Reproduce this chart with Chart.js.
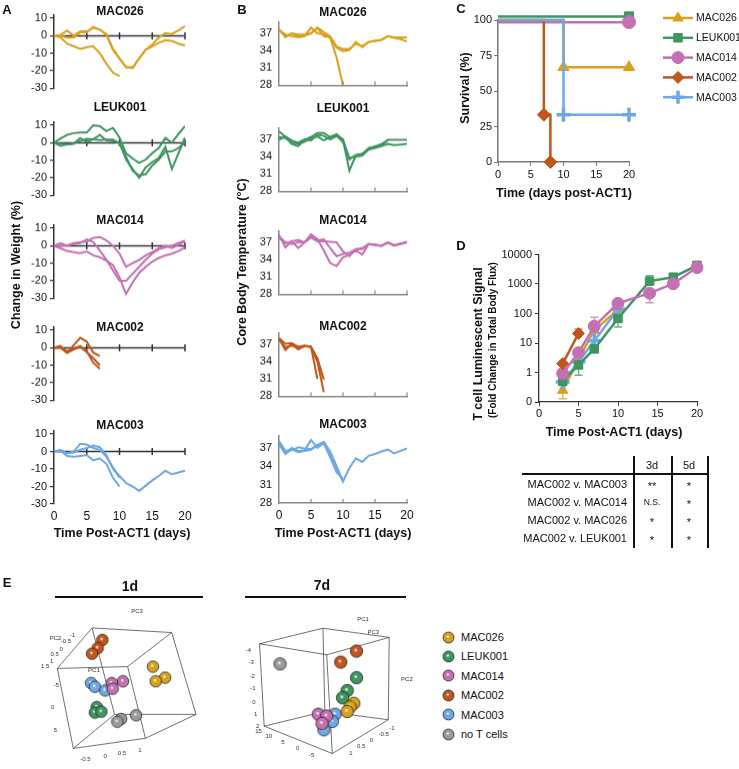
<!DOCTYPE html>
<html>
<head>
<meta charset="utf-8">
<script src="https://cdn.jsdelivr.net/npm/chart.js@4.4.1/dist/chart.umd.min.js"></script>
<style>
  body { margin: 0; background: #fff; }
  #fig { position: relative; width: 739px; height: 769px; overflow: hidden;
         font-family: 'Liberation Sans', Arial, sans-serif; color: #111; }
  #fig canvas { position: absolute; }
  .t { position: absolute; white-space: nowrap; line-height: 1; }
  .b { font-weight: bold; }
  .ctr { transform: translate(-50%, -50%); }
  .rgt { transform: translate(-100%, -50%); }
  .lft { transform: translate(0, -50%); }
  .rot { transform: translate(-50%, -50%) rotate(-90deg); }
  .ln { position: absolute; background: #111; }
</style>
</head>
<body>
<div id="fig"></div>
<script>
// ---- data ----
const dayAxis = [0,1,2,3,4,5,6,7,8,9,10,11,12,13,14,15,16,17,18,19,20];

// Panel A: change in weight (%), one array per mouse
const wtMAC026 = [
  [0, -1, -4.5, -6, -7.5, -6.5, -6, -10, -16, -21, -23],
  [0, 0.5, 3, 0, 2.5, 2.5, 4.5, 3.5, 0.5, -8, -13, -18, -18.5, -13, -8, -6, -4, -2.5, -3, -4.5, -5.5],
  [0, 0, -1, -1, 2, 2, 5, 3.5, 1, -7.5, -13, -18, -18, -13, -8, -5, -1, 1.5, 1, 3, 5.5]
];
const wtLEUK001 = [
  [0, 2.5, 4.5, 5.5, 5.8, 5.8, 10, 9.5, 6.7, 8.5, 3, -6, -9, -11.5, -9.6, -6, -3, 2.7, 0, 5, 9.5],
  [0, -1.8, -1, -0.5, 2.7, 0.4, 2, 4.4, 1.3, 1, 0, -9.6, -15, -20, -14, -11, -8.7, -2.4, -15, -6, 3],
  [0, -0.5, -0.9, -0.5, 1, 2.2, 2, 1.5, 1.8, 1.8, -0.5, -8, -16, -18.7, -18, -13, -9.6, -5, -5, -3, 0]
];
const wtMAC014 = [
  [0, -1.5, -3, -3.6, -4.2, -3.3, -5.5, -6.5, -8.5, -11, -18, -27.5, -21, -15.5, -12, -9, -7, -5.5, -4.5, -3, -1],
  [0, 1.5, 0, 1.5, 2, 2.4, 4.5, 5, 3, 0, -4.5, -12, -10, -8, -5.5, -3.6, -1.5, 0, -1.3, 0.5, 2.7],
  [0, 0, 0.3, 1, 1.5, 3.6, 2, -2.7, -8, -14, -20, -20, -16, -12, -8, -4.5, -2, -1, 0, 1.5, 3]
];
const wtMAC002 = [
  [0, 1, -2.8, 1.5, 5.7, 3.5, -2.8, -4.7],
  [0, 0.5, -2, -0.5, 1, -2, -8.5, -12],
  [0, 0, -3, -1, 0.5, -2.5, -6, -10]
];
const wtMAC003 = [
  [0, 0.5, -2.5, -3, -2.5, -2, -5, -4, -7, -15, -20],
  [0, 1, -1, 0, 4.5, 4, 2, 1, -3, -9, -15],
  [0, 0, -1, -0.5, 1, 2, 3.5, 2.5, -2, -10, -14, -18, -20, -22.5, -19.5, -16.5, -14, -11, -13, -12, -11]
];

// Panel B: core body temperature (°C)
const tpMAC026 = [
  [37.7, 36.3, 37, 36.8, 36.8, 37, 37.9, 36.5, 36.3, 32.8, 28],
  [37.5, 36.8, 36.5, 36.3, 36.5, 38, 37, 36.8, 36.2, 34.5, 33.9, 34.1, 35.5, 34.6, 35.5, 35.7, 35.8, 36.5, 36.2, 36, 35.6],
  [37.7, 36.5, 37, 36.5, 36.6, 37, 38, 37.2, 36.5, 34.7, 34.3, 34.3, 35.2, 34.8, 35.5, 35.7, 35.9, 36.5, 36.3, 36.3, 36.3]
];
const tpLEUK001 = [
  [38.4, 37.4, 36.2, 35.8, 36.9, 37.4, 38.1, 38.1, 37.4, 37.9, 36.9, 31.6, 34.2, 34.2, 35.5, 35.7, 35.9, 36.9, 36.9, 36.9, 36.9],
  [37.4, 37.2, 36.5, 36.2, 36.6, 37.2, 37.5, 36.8, 37.4, 37.6, 36.5, 33.8, 34, 34.2, 35.2, 35.5, 35.8, 36.2, 36, 36.1, 36.2],
  [36.9, 37.5, 36.8, 36.4, 37, 36.8, 37.8, 37.6, 37, 37.6, 37, 33.5, 34.3, 34.5, 35.4, 35.8, 36.2, 36.8]
];
const tpMAC014 = [
  [38.3, 36.1, 37.2, 36, 37, 38.4, 37.6, 35.6, 33.4, 32.9, 34.4, 34.8, 35.6, 34.9, 36.7, 36.6, 36.4, 37, 36.4, 36.8, 37.1],
  [38, 37, 36.7, 37, 37, 38, 37.3, 37.5, 36, 34.6, 35, 35.2, 35.8, 36, 36.7, 36.6, 36.4, 36.9, 36.5, 36.7, 37],
  [37.8, 36.8, 37.2, 37.4, 37, 37.8, 37.2, 37.2, 37.1, 37, 35.4, 34.6, 35.8, 35.8, 36.7, 36.5, 36.4, 37, 36.5, 36.8, 37]
];
const tpMAC002 = [
  [38.1, 37.1, 37.2, 36.6, 36.8, 36.6, 34.6, 30.9],
  [38, 36, 37.1, 36.1, 36.7, 36.6, 31],
  [37.8, 36.5, 36.8, 36.3, 36.7, 36.5, 34, 28.7]
];
const tpMAC003 = [
  [38.1, 36.5, 36.6, 37.1, 36.9, 36.8, 37.5, 38, 36.4, 34, 31.5, 33.7, 35.3, 34.7, 35.7, 36, 36.4, 36.7, 36.1, 36.5, 36.9],
  [37.5, 36.2, 37, 36.5, 36.6, 38.3, 37, 37.8, 35.8, 33.5, 31.5],
  [37.8, 36, 36.8, 36.3, 36.5, 36.7, 37.4, 37.7, 35.5, 33, 32]
];

// Panel C: survival (%)
const survNames = ['MAC026', 'LEUK001', 'MAC014', 'MAC002', 'MAC003'];
const survDays = {
  MAC026: [0, 10, 20], LEUK001: [0, 20], MAC014: [0, 20], MAC002: [0, 7, 8], MAC003: [0, 10, 20]
};
const survPct = {
  MAC026: [100, 66.7, 66.7], LEUK001: [102.5, 102.5], MAC014: [98.5, 98.5], MAC002: [100, 33.3, 0], MAC003: [100, 33.3, 33.3]
};

// Panel D: T cell luminescent signal (fold change)
const lumDays = [3, 5, 7, 10, 14, 17, 20];
const lumMAC002 = [2, 21];
const lumMAC014 = [0.93, 4.7, 37, 220, 490, 1020, 3600];
const lumMAC026 = [0.25, 2.8, 27, 135];
const lumMAC003 = [0.48, 2.3, 12, 140];
const lumLEUK001 = [0.5, 1.8, 6.3, 68, 1250, 1700, 4300];
const lumErrHi = { MAC002: [null, 30], MAC014: [null, null, 75], LEUK001: [null, null, null, null, 1900] };
const lumErrLo = { MAC026: [0.13], MAC014: [null, null, null, null, 230], LEUK001: [null, 0.8, null, 35] };
const lumTicks = [0.1, 1, 10, 100, 1000, 10000];

// Significance table
const cmpRows = ['MAC002 v. MAC003', 'MAC002 v. MAC014', 'MAC002 v. MAC026', 'MAC002 v. LEUK001'];
const sig3d = ['**', 'N.S.', '*', '*'];
const sig5d = ['*', '*', '*', '*'];

// Panel E: projected PCA positions of the spheres (screen units of each 3D view)
const pca1d = {
  MAC026: [[156, 65], [169, 77], [159, 81]],
  LEUK001: [[96, 109], [94, 115], [101, 114]],
  MAC014: [[124, 81], [112, 83], [113, 89]],
  MAC002: [[102, 36], [97, 45], [91, 51]],
  MAC003: [[90, 83], [94, 87], [105, 91]],
  none: [[122, 122], [118, 125], [138, 118]]
};
const pca7d = {
  MAC026: [[141, 105], [137, 109], [134, 114]],
  LEUK001: [[144, 77], [134, 91], [129, 99]],
  MAC014: [[103, 117], [112, 119], [107, 127]],
  MAC002: [[144, 48], [127, 60]],
  MAC003: [[121, 117], [118, 125], [109, 134]],
  none: [[62, 62]]
};
const box1d = [[91, 23], [176, 28], [129, 65], [54, 67], [115, 117], [202, 117], [148, 143], [71, 154]];
const box7d = [[40, 40], [108, 23], [179, 33], [112, 52], [45, 130], [110, 114], [178, 123], [118, 160]];
const boxEdges = [[0,1],[1,2],[2,3],[3,0],[4,5],[5,6],[6,7],[7,4],[0,4],[1,5],[2,6],[3,7]];
const box1dEdges = [[0,1],[1,2],[2,3],[3,0],[7,6],[6,5],[5,4],[4,7],[0,4],[1,5],[2,6],[3,7]];
const ticks1d = [['PC3',139,5],['PC2',52,34],['-1',70,31],['-0.5',63,38],['0',58,46],['0.5',51,52],['1',48,59],['1.5',41,65],
  ['PC1',93,69],['-5',53,85],['0',49,109],['5',52,134],['-0.5',84,166],['0',105,163],['0.5',123,159],['1',142,156]];
const ticks7d = [['PC1',151,13],['PC3',162,28],['PC2',198,79],['-4',28,47],['-3',31,60],['-2',32,76],['-1',33,89],['0',34,104],
  ['1',36,117],['2',38,130],['15',39,136],['10',50,141],['5',65,148],['0',81,154],['-5',96,162],
  ['-1',182,132],['-0.5',173,139],['0',160,145],['0.5',149,152],['1',138,160]];
const groupNames = ['MAC026', 'LEUK001', 'MAC014', 'MAC002', 'MAC003', 'no T cells'];

// ---- colours ----
const col = {
  MAC026: '#D9A11E', LEUK001: '#3E9660', MAC014: '#C470B3',
  MAC002: '#C2561B', MAC003: '#6EA8E6', none: '#9A9A9A'
};
const markers = { MAC026: 'triangle', LEUK001: 'rect', MAC014: 'circle', MAC002: 'rectRot', MAC003: 'cross' };

Chart.defaults.font.family = "'Liberation Sans', Arial, sans-serif";
Chart.defaults.font.size = 11;
Chart.defaults.color = '#111';
Chart.defaults.animation = false;
Chart.defaults.plugins.legend.display = false;
Chart.defaults.plugins.tooltip.enabled = false;

const fig = document.getElementById('fig');

function addCanvas(left, top, w, h) {
  const c = document.createElement('canvas');
  c.width = w; c.height = h;
  c.style.left = left + 'px'; c.style.top = top + 'px';
  c.style.width = w + 'px'; c.style.height = h + 'px';
  fig.appendChild(c);
  return c;
}

function addText(txt, x, y, cls, size) {
  const d = document.createElement('div');
  d.className = 't ' + (cls || '');
  d.textContent = txt;
  d.style.left = x + 'px'; d.style.top = y + 'px';
  if (size) d.style.fontSize = size + 'px';
  fig.appendChild(d);
  return d;
}

function addLine(x, y, w, h) {
  const d = document.createElement('div');
  d.className = 'ln';
  d.style.left = x + 'px'; d.style.top = y + 'px';
  d.style.width = w + 'px'; d.style.height = h + 'px';
  fig.appendChild(d);
}

function toPoints(vals, xs) {
  const out = [];
  vals.forEach((v, i) => { if (v !== null) out.push({ x: (xs || dayAxis)[i], y: v }); });
  return out;
}

// zero line with crossing ticks (panel A)
const zeroLine = {
  id: 'zeroLine',
  beforeDatasetsDraw(chart, args, opts) {
    if (!opts.on) return;
    const { ctx, chartArea, scales: { x, y } } = chart;
    const y0 = y.getPixelForValue(0);
    ctx.save();
    ctx.strokeStyle = '#333';
    ctx.lineWidth = 1.5;
    ctx.beginPath();
    ctx.moveTo(chartArea.left, y0);
    ctx.lineTo(chartArea.right, y0);
    [5, 10, 15, 20].forEach(v => {
      const px = x.getPixelForValue(v);
      ctx.moveTo(px, y0 - 3.5);
      ctx.lineTo(px, y0 + 3.5);
    });
    ctx.stroke();
    ctx.restore();
  }
};

// short inward ticks on the bottom axis (panel B)
const innerTicks = {
  id: 'innerTicks',
  afterDraw(chart, args, opts) {
    if (!opts.on) return;
    const { ctx, chartArea, scales: { x } } = chart;
    ctx.save();
    ctx.strokeStyle = '#888';
    ctx.lineWidth = 1.2;
    ctx.beginPath();
    [5, 10, 15, 20].forEach(v => {
      const px = x.getPixelForValue(v);
      ctx.moveTo(px, chartArea.bottom);
      ctx.lineTo(px, chartArea.bottom - 4);
    });
    ctx.stroke();
    ctx.restore();
  }
};

function smallChart(o) {
  const yw = 40, pr = 12, pt = 8;
  const pb = o.showX ? 2 : 8, xh = o.showX ? 20 : 0;
  const cv = addCanvas(o.L - yw, o.T - pt, yw + (o.R - o.L) + pr, pt + (o.B - o.T) + xh + pb);
  const isA = o.kind === 'A';
  const axisCol = isA ? '#333' : '#888';
  new Chart(cv, {
    type: 'line',
    data: {
      datasets: o.lines.map(v => ({
        data: toPoints(v), borderColor: o.color, borderWidth: 2,
        pointRadius: 0, tension: 0
      }))
    },
    options: {
      responsive: false, devicePixelRatio: 1,
      layout: { padding: { left: 0, right: pr, top: pt, bottom: pb } },
      plugins: { zeroLine: { on: isA }, innerTicks: { on: !isA } },
      scales: {
        x: {
          type: 'linear', min: 0, max: 20,
          display: isA ? o.showX : true,
          ticks: { stepSize: 5, display: o.showX, padding: 5, font: { size: 12 } },
          grid: { display: false, drawTicks: false },
          border: { display: !isA, color: axisCol, width: 1.5 },
          afterFit: s => { s.height = xh; }
        },
        y: {
          min: o.yMin, max: o.yMax,
          ticks: { padding: isA ? 3 : 7 },
          afterBuildTicks: s => {
            const t = [];
            for (let v = o.yMin; v <= o.yMax; v += o.yStep) t.push({ value: v });
            s.ticks = t;
          },
          grid: isA ? { display: true, drawOnChartArea: false, tickLength: 4, color: axisCol, lineWidth: 1.2 }
                    : { display: false, drawTicks: false },
          border: { color: axisCol, width: 1.5 },
          afterFit: s => { s.width = yw; }
        }
      }
    },
    plugins: [zeroLine, innerTicks]
  });
}

// ---- panel A ----
const aRows = [
  ['MAC026', wtMAC026, 13.4, 90, 11],
  ['LEUK001', wtLEUK001, 120.4, 197, 107],
  ['MAC014', wtMAC014, 223.4, 300, 220],
  ['MAC002', wtMAC002, 325.4, 402, 327],
  ['MAC003', wtMAC003, 428.6, 504, 425]
];
aRows.forEach((r, i) => {
  smallChart({ kind: 'A', lines: r[1], color: col[r[0]], L: 54, R: 185, T: r[2], B: r[3],
               yMin: -30, yMax: 12, yStep: 10, showX: i === 4 });
  addText(r[0], 120, r[4], 'b ctr', 12);
});

// ---- panel B ----
const bRows = [
  ['MAC026', tpMAC026, 16.4, 91, 12],
  ['LEUK001', tpLEUK001, 122.4, 197, 108],
  ['MAC014', tpMAC014, 225.4, 300, 220],
  ['MAC002', tpMAC002, 327.4, 402, 326],
  ['MAC003', tpMAC003, 429.7, 503, 424]
];
bRows.forEach((r, i) => {
  smallChart({ kind: 'B', lines: r[1], color: col[r[0]], L: 279, R: 407, T: r[2], B: r[3],
               yMin: 28, yMax: 39, yStep: 3, showX: i === 4 });
  addText(r[0], 343, r[4], 'b ctr', 12);
});

addText('Time Post-ACT1 (days)', 122, 533, 'b ctr', 12.5);
addText('Time Post-ACT1 (days)', 343, 533, 'b ctr', 12.5);
addText('Change in Weight (%)', 16, 265, 'b rot', 12.5);
addText('Core Body Temperature (°C)', 242, 262, 'b rot', 12.5);

// ---- panel C ----
const legendC = {
  id: 'legendC',
  afterDraw(chart, args, opts) {
    const ctx = chart.ctx;
    const ox = opts.ox, oy = opts.oy;
    survNames.forEach((name, i) => {
      const y = 18 + i * 19.8 - oy;
      ctx.save();
      ctx.strokeStyle = col[name];
      ctx.fillStyle = col[name];
      ctx.lineWidth = 2.5;
      ctx.beginPath();
      ctx.moveTo(663 - ox, y);
      ctx.lineTo(693 - ox, y);
      ctx.stroke();
      const cross = markers[name] === 'cross';
      ctx.lineWidth = cross ? 3.5 : 1;
      Chart.helpers.drawPoint(ctx, { pointStyle: markers[name], radius: cross ? 6.5 : 6, rotation: 0, borderWidth: cross ? 3.5 : 1 }, 678 - ox, y);
      ctx.fillStyle = '#111';
      ctx.font = "10.5px 'Liberation Sans', Arial, sans-serif";
      ctx.textBaseline = 'middle';
      ctx.fillText(name, 696 - ox, y + 0.5);
      ctx.restore();
    });
  }
};

(function () {
  const yw = 50, pt = 18, pb = 2, xh = 24;
  const L = 498, R = 629, T = 20, B = 162;
  const left = L - yw, top = T - pt;
  const width = 739 - left, pr = width - yw - (R - L);
  const cv = addCanvas(left, top, width, pt + (B - T) + xh + pb);
  const order = ['MAC003', 'MAC002', 'MAC026', 'MAC014', 'LEUK001'];
  new Chart(cv, {
    type: 'line',
    data: {
      datasets: order.map(name => ({
        data: toPoints(survPct[name], survDays[name]),
        borderColor: col[name], backgroundColor: col[name],
        borderWidth: 2.5, stepped: true, clip: false,
        pointStyle: markers[name],
        pointRadius: c => (c.dataIndex === 0 ? 0 : (name === 'MAC003' ? 7 : 6.5)),
        pointBorderWidth: name === 'MAC003' ? 3.5 : 1,
        pointBackgroundColor: col[name], pointBorderColor: col[name]
      }))
    },
    options: {
      responsive: false, devicePixelRatio: 1,
      layout: { padding: { left: 0, right: pr, top: pt, bottom: pb } },
      plugins: { legendC: { ox: left, oy: top } },
      scales: {
        x: {
          type: 'linear', min: 0, max: 20,
          ticks: { stepSize: 5, padding: 2 },
          grid: { display: true, drawOnChartArea: false, tickLength: 4, color: '#777' },
          border: { color: '#777', width: 1.5 },
          afterFit: s => { s.height = xh; }
        },
        y: {
          min: 0, max: 100,
          ticks: { stepSize: 25, padding: 2 },
          grid: { display: true, drawOnChartArea: false, tickLength: 4, color: '#777' },
          border: { color: '#777', width: 1.5 },
          afterFit: s => { s.width = yw; }
        }
      }
    },
    plugins: [legendC]
  });
})();
addText('Time (days post-ACT1)', 564, 193, 'b ctr', 12.5);
addText('Survival  (%)', 465, 88, 'b rot', 12.5);

// ---- panel D ----
const errorBars = {
  id: 'errorBars',
  beforeDatasetsDraw(chart) {
    const { ctx, scales: { x, y } } = chart;
    chart.data.datasets.forEach(ds => {
      const bounds = [].concat(ds.errHi ? [ds.errHi] : [], ds.errLo ? [ds.errLo] : []);
      ctx.save();
      ctx.strokeStyle = ds.borderColor;
      ctx.globalAlpha = 0.75;
      ctx.lineWidth = 1.5;
      bounds.forEach(arr => arr.forEach((b, i) => {
        if (b === null || b === undefined) return;
        const px = x.getPixelForValue(ds.data[i].x);
        const py = y.getPixelForValue(ds.data[i].y);
        const pb = y.getPixelForValue(b);
        ctx.beginPath();
        ctx.moveTo(px, py); ctx.lineTo(px, pb);
        ctx.moveTo(px - 4, pb); ctx.lineTo(px + 4, pb);
        ctx.stroke();
      }));
      ctx.restore();
    });
  }
};

(function () {
  const yw = 60, pt = 10, pb = 2, xh = 22, pr = 16;
  const L = 539, R = 697, T = 254, B = 402;
  const cv = addCanvas(L - yw, T - pt, yw + (R - L) + pr, pt + (B - T) + xh + pb);
  const series = [
    ['MAC002', lumMAC002], ['MAC014', lumMAC014], ['LEUK001', lumLEUK001],
    ['MAC003', lumMAC003], ['MAC026', lumMAC026]
  ];
  new Chart(cv, {
    type: 'line',
    data: {
      datasets: series.map(([name, vals]) => ({
        data: toPoints(vals, lumDays),
        borderColor: col[name], backgroundColor: col[name],
        borderWidth: 2.5, clip: false,
        pointStyle: markers[name],
        pointRadius: name === 'MAC003' ? 7 : 6,
        pointBorderWidth: name === 'MAC003' ? 3.5 : 1,
        pointBackgroundColor: col[name], pointBorderColor: col[name],
        errHi: lumErrHi[name], errLo: lumErrLo[name]
      }))
    },
    options: {
      responsive: false, devicePixelRatio: 1,
      layout: { padding: { left: 0, right: pr, top: pt, bottom: pb } },
      scales: {
        x: {
          type: 'linear', min: 0, max: 20,
          ticks: { stepSize: 5, padding: 1 },
          grid: { display: true, drawOnChartArea: false, tickLength: 4, color: '#333' },
          border: { color: '#333', width: 1.3 },
          afterFit: s => { s.height = xh; }
        },
        y: {
          type: 'logarithmic', min: 0.1, max: 10000,
          afterBuildTicks: s => { s.ticks = lumTicks.map(v => ({ value: v })); },
          ticks: { padding: 3, callback: v => (v < 1 ? '0' : String(v)) },
          grid: { display: true, drawOnChartArea: false, tickLength: 4, color: '#333' },
          border: { color: '#333', width: 1.3 },
          afterFit: s => { s.width = yw; }
        }
      }
    },
    plugins: [errorBars]
  });
})();
addText('Time Post-ACT1 (days)', 614, 432, 'b ctr', 12.5);
addText('T cell Luminescent Signal', 478, 344, 'b rot', 12.5);
addText('(Fold Change in Total Body Flux)', 493, 340, 'b rot', 10);

// ---- significance table ----
addLine(633, 456, 1.5, 92);
addLine(671, 456, 1.5, 92);
addLine(707, 456, 1.5, 92);
addLine(522, 473, 186, 1.5);
addText('3d', 652, 465, 'ctr', 11);
addText('5d', 689, 465, 'ctr', 11);
cmpRows.forEach((r, i) => {
  const y = 484 + i * 18;
  addText(r, 627, y, 'rgt', 11);
  addText(sig3d[i], 652, y + (sig3d[i] === 'N.S.' ? 0 : 1.5), 'ctr', sig3d[i] === 'N.S.' ? 8.5 : 11);
  addText(sig5d[i], 689, y + 1.5, 'ctr', 11);
});

// ---- panel E ----
function shade(hex, f) {
  const n = parseInt(hex.slice(1), 16);
  const r = Math.round(((n >> 16) & 255) * f), g = Math.round(((n >> 8) & 255) * f), b = Math.round((n & 255) * f);
  return 'rgb(' + r + ',' + g + ',' + b + ')';
}
function sphere(color, r) {
  const c = document.createElement('canvas');
  const s = Math.ceil(2 * r + 2);
  c.width = c.height = s;
  const g = c.getContext('2d');
  const cx = s / 2, cy = s / 2;
  const grad = g.createRadialGradient(cx - r * 0.15, cy - r * 0.2, r * 0.05, cx, cy, r);
  grad.addColorStop(0, '#ffffff');
  grad.addColorStop(0.3, color);
  grad.addColorStop(0.85, color);
  grad.addColorStop(1, shade(color, 0.7));
  g.fillStyle = grad;
  g.beginPath(); g.arc(cx, cy, r, 0, Math.PI * 2); g.fill();
  g.strokeStyle = 'rgba(30,30,30,0.85)';
  g.lineWidth = 0.8;
  g.stroke();
  return c;
}
const groupKeys = ['MAC026', 'LEUK001', 'MAC014', 'MAC002', 'MAC003', 'none'];

const axisText = {
  id: 'axisText',
  afterDatasetsDraw(chart, args, opts) {
    const { ctx, scales: { x, y } } = chart;
    ctx.save();
    ctx.fillStyle = '#333';
    ctx.font = "6px 'Liberation Sans', Arial, sans-serif";
    ctx.textAlign = 'center';
    ctx.textBaseline = 'middle';
    opts.labels.forEach(([t, lx, ly]) => ctx.fillText(t, x.getPixelForValue(lx), y.getPixelForValue(ly)));
    ctx.restore();
  }
};

function pcaChart(left, pts, box, edges, labels, r) {
  const W = 215, H = 169;
  const cv = addCanvas(left, 600, W, H);
  const edgeData = [];
  edges.forEach(([a, b]) => {
    edgeData.push({ x: box[a][0], y: box[a][1] });
    edgeData.push({ x: box[b][0], y: box[b][1] });
    edgeData.push({ x: box[b][0], y: null });
  });
  const sets = groupKeys.filter(k => pts[k]).map(k => ({
    type: 'scatter',
    data: pts[k].map(p => ({ x: p[0], y: p[1] })),
    pointStyle: sphere(col[k], r), pointRadius: r
  }));
  sets.push({
    type: 'line', data: edgeData, borderColor: '#333', borderWidth: 0.7,
    pointRadius: 0, spanGaps: false, tension: 0
  });
  new Chart(cv, {
    type: 'scatter',
    data: { datasets: sets },
    options: {
      responsive: false, devicePixelRatio: 1,
      layout: { padding: 0 },
      plugins: { axisText: { labels: labels } },
      scales: {
        x: { type: 'linear', min: 0, max: W, display: false },
        y: { type: 'linear', min: 0, max: H, reverse: true, display: false }
      }
    },
    plugins: [axisText]
  });
}
pcaChart(0, pca1d, box1d, box1dEdges, ticks1d, 5.8);
pcaChart(215, pca7d, box7d, boxEdges, ticks7d, 6.2);

addLine(55, 596, 148, 2);
addLine(245, 596, 161, 2);
addText('1d', 130, 586, 'b ctr', 14);
addText('7d', 322, 585, 'b ctr', 14);

groupKeys.forEach((k, i) => {
  const y = 637 + i * 19.4;
  const s = sphere(col[k], 5.5);
  s.style.left = (448 - s.width / 2) + 'px';
  s.style.top = (y - s.height / 2) + 'px';
  fig.appendChild(s);
  addText(groupNames[i], 461, y, 'lft', 11);
});

// ---- panel letters ----
addText('A', 7, 9, 'b ctr', 13);
addText('B', 242, 9, 'b ctr', 13);
addText('C', 461, 8, 'b ctr', 13);
addText('D', 461, 245, 'b ctr', 13);
addText('E', 7, 582, 'b ctr', 13);
</script>
</body>
</html>
